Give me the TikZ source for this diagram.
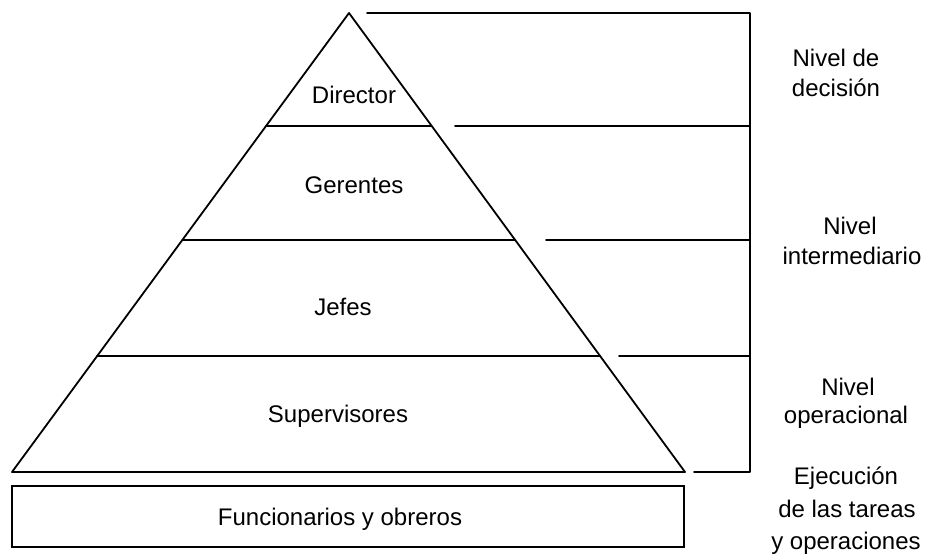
\documentclass[tikz,border=0pt]{standalone}
\usepackage{fontspec}
\setmainfont{Liberation Sans}
\usetikzlibrary{calc}
\begin{document}
\begin{tikzpicture}[x=1pt,y=-1pt,
  ln/.style={line width=1.8pt,line cap=round,line join=round},
  lbl/.style={inner sep=0pt,anchor=base,font=\fontsize{24}{24}\selectfont}]
\useasboundingbox (0,0) rectangle (928,559);
% triangle
\coordinate (A) at (349,13);
\coordinate (BL) at (12,472);
\coordinate (BR) at (685,472);
\draw[ln] (BL) -- (A) -- (BR) -- cycle;
% level lines inside the triangle
\draw[ln] ($(A)!0.2462!(BL)$) -- ($(A)!0.2462!(BR)$);
\draw[ln] ($(A)!0.4946!(BL)$) -- ($(A)!0.4946!(BR)$);
\draw[ln] ($(A)!0.7473!(BL)$) -- ($(A)!0.7473!(BR)$);
% outer frame lines
\coordinate (T1) at (367,13);
\coordinate (T2) at (750,13);
\coordinate (B2) at (750,472);
\coordinate (B1) at (694,472);
\draw[ln] (T1) -- (T2) -- (B2) -- (B1);
\coordinate (L1a) at (455,126); \coordinate (L1b) at (750,126);
\coordinate (L2a) at (546,240); \coordinate (L2b) at (750,240);
\coordinate (L3a) at (619,356); \coordinate (L3b) at (750,356);
\draw[ln] (L1a) -- (L1b);
\draw[ln] (L2a) -- (L2b);
\draw[ln] (L3a) -- (L3b);
% base box
\node[draw,line width=1.8pt,minimum width=672pt,minimum height=61pt,inner sep=0pt] (box) at (348,516.5) {};
\node[lbl] (fo) at (340,525) {Funcionarios y obreros};
% level labels
\node[lbl] (dir) at (354,103) {Director};
\node[lbl] (ger) at (354,193) {Gerentes};
\node[lbl] (jef) at (343,315) {Jefes};
\node[lbl] (sup) at (338,422) {Supervisores};
% side labels
\node[lbl] (dec1) at (836,67) {Nivel de};
\node[lbl] (dec2) at (836,97) {decisión};
\node[lbl] (int1) at (850,234) {Nivel};
\node[lbl] (int2) at (852,264) {intermediario};
\node[lbl] (ope1) at (848,395) {Nivel};
\node[lbl] (ope2) at (846,423) {operacional};
\node[lbl] (eje1) at (846,484) {Ejecución};
\node[lbl] (eje2) at (847,517) {de las tareas};
\node[lbl] (eje3) at (846,549) {y operaciones};
\end{tikzpicture}
\end{document}
